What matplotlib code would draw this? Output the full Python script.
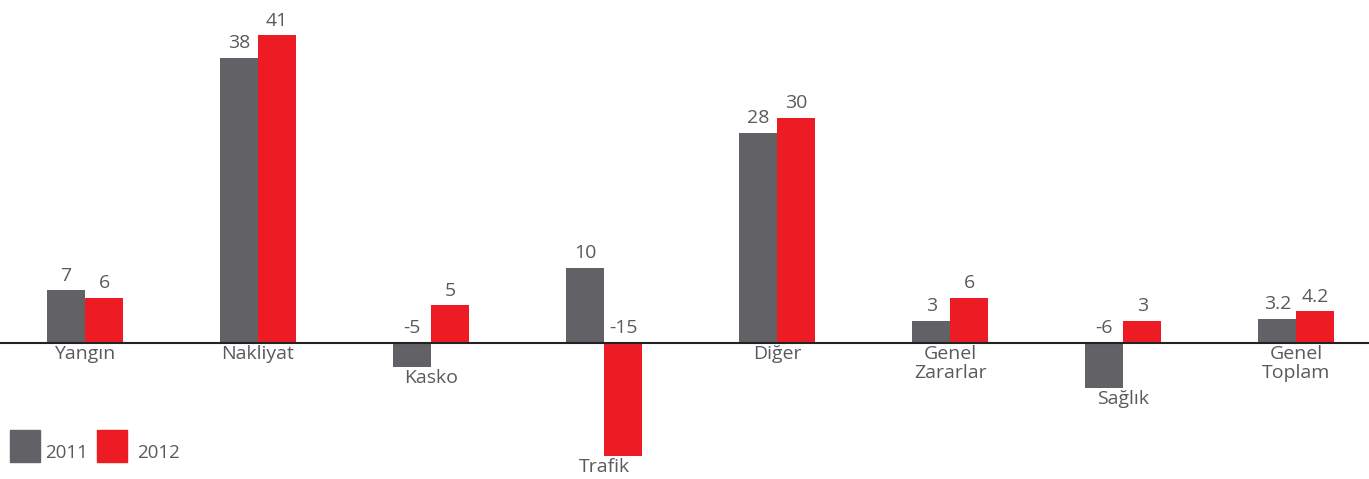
import matplotlib.pyplot as plt
from matplotlib.patches import Rectangle

categories = ["Yangın", "Nakliyat", "Kasko", "Trafik", "Diğer",
              "Genel\nZararlar", "Sağlık", "Genel\nToplam"]
# bar heights as drawn in the picture (the Kasko 2011 bar is drawn shorter than its label)
values_2011 = [7, 38, -3.2, 10, 28, 3, -6, 3.2]
values_2012 = [6, 41, 5, -15, 30, 6, 3, 4.2]
labels_2011 = ["7", "38", "-5", "10", "28", "3", "-6", "3.2"]
labels_2012 = ["6", "41", "5", "-15", "30", "6", "3", "4.2"]
series = ["2011", "2012"]

GRAY = "#626266"
RED = "#ED1C24"
TEXT = "#5a5a5e"

plt.rcParams["font.family"] = ["Open Sans", "DejaVu Sans"]

fig = plt.figure(figsize=(13.69, 4.79), dpi=100)
ax = fig.add_axes([0, 0, 1, 1])

w = 0.22
x = list(range(len(categories)))
ax.bar([i - w / 2 for i in x], values_2011, width=w, color=GRAY, align="center")
ax.bar([i + w / 2 for i in x], values_2012, width=w, color=RED, align="center")

ax.axhline(0, color="#222222", linewidth=1.5, zorder=3)

for i in x:
    for v, lab, dx in ((values_2011[i], labels_2011[i], -w / 2),
                       (values_2012[i], labels_2012[i], w / 2)):
        ax.annotate(lab, (i + dx, max(v, 0)), xytext=(0, 4), textcoords="offset points",
                    ha="center", va="bottom", fontsize=14, color=TEXT)
    low = min(values_2011[i], values_2012[i], 0)
    ax.annotate(categories[i], (i, low), xytext=(0, -1.5), textcoords="offset points",
                ha="center", va="top", fontsize=14, color=TEXT, linespacing=1.05)

ax.set_xlim(-0.491, 7.42)
ax.set_ylim(-18.1, 45.67)
ax.axis("off")

# legend: squares with labels sitting at the square's bottom
gaps = [35, 40]
for k, (name, col) in enumerate(zip(series, [GRAY, RED])):
    x0 = (10 + 87 * k) / 1369
    ax.add_patch(Rectangle((x0, 17 / 479), 30 / 1369, 32 / 479,
                           transform=ax.transAxes, color=col, clip_on=False))
    ax.text(x0 + gaps[k] / 1369, 17 / 479, name, transform=ax.transAxes,
            ha="left", va="bottom", fontsize=13.5, color=TEXT)

fig.savefig("out.png", dpi=100)
